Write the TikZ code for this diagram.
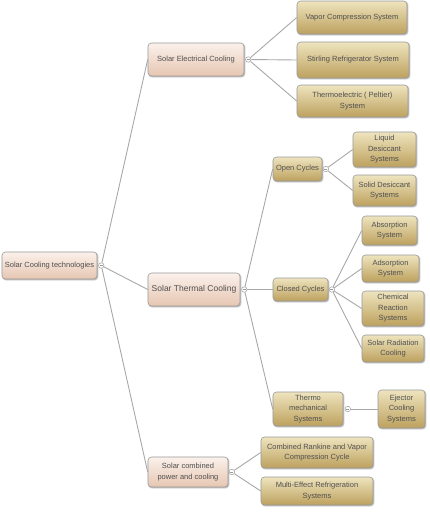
\documentclass[tikz,border=0pt]{standalone}
\usepackage{fontspec}
\setmainfont{Liberation Sans}
\usetikzlibrary{shadows.blur}
\definecolor{txtgray}{HTML}{505050}
\definecolor{boxedge}{HTML}{9A9A9A}
\definecolor{linegray}{HTML}{A8A8A8}
\definecolor{pinktop}{HTML}{FBF1EB}
\definecolor{pinkbot}{HTML}{E6C6B2}
\definecolor{goldtop}{HTML}{EEE4BE}
\definecolor{goldbot}{HTML}{BDA15E}

\begin{document}
\begin{tikzpicture}[x=1pt,y=1pt,yscale=-1,
  box/.style={draw=boxedge, line width=0.6pt, rounded corners=3.5pt, align=center, inner sep=1pt, text=txtgray,
    font=\fontsize{7.5}{10.5}\selectfont,
    blur shadow={shadow xshift=0.8pt, shadow yshift=-0.9pt, shadow blur radius=1.2pt, shadow opacity=40}},
  mainbox/.style={box, top color=pinktop, bottom color=pinkbot},
  leafbox/.style={box, top color=goldtop, bottom color=goldbot},
  knob/.style={circle, draw=boxedge, fill=white, line width=0.5pt, inner sep=0pt, minimum size=5.5pt,
    path picture={\draw[boxedge, line width=0.5pt] ([xshift=-1.6pt]path picture bounding box.center) -- ([xshift=1.6pt]path picture bounding box.center);}},
  link/.style={draw=linegray, line width=0.9pt}]
\useasboundingbox (0,0) rectangle (430,515);

% Text Node
\node [mainbox, minimum width=95pt, minimum height=27pt] (root) at (49.5,265.5) {Solar Cooling technologies};
\node [knob] (rootk) at ([xshift=4pt]root.east) {};
% Text Node
\node [mainbox, minimum width=96pt, minimum height=33pt] (elec) at (196,59.5) {Solar Electrical Cooling};
\node [knob] (eleck) at ([xshift=4pt]elec.east) {};
% Text Node
\node [mainbox, minimum width=92pt, minimum height=33pt, font=\fontsize{8.5}{10.5}\selectfont] (therm) at (194,289.5) {Solar Thermal Cooling};
\node [knob] (thermk) at ([xshift=4pt]therm.east) {};
% Text Node
\node [mainbox, minimum width=80pt, minimum height=30pt] (comb) at (188,472) {Solar combined\\power and cooling};
\node [knob] (combk) at ([xshift=3.5pt]comb.east) {};

% Text Node
\node [leafbox, minimum width=110pt, minimum height=33pt] (vapor) at (352,17.5) {Vapor Compression System};
\node [leafbox, minimum width=112pt, minimum height=36pt] (stirl) at (353,60) {Stirling Refrigerator System};
\node [leafbox, minimum width=111pt, minimum height=32pt] (pelt) at (352.5,101) {Thermoelectric ( Peltier)\\System};

% Text Node
\node [leafbox, minimum width=49pt, minimum height=24pt] (open) at (297.5,169) {Open Cycles};
\node [knob] (openk) at ([xshift=3.5pt]open.east) {};
\node [leafbox, minimum width=63pt, minimum height=35pt] (liquid) at (384.5,149.5) {Liquid\\Desiccant\\Systems};
\node [leafbox, minimum width=63pt, minimum height=31pt] (solid) at (384.5,190.5) {Solid Desiccant\\Systems};

% Text Node
\node [leafbox, minimum width=55pt, minimum height=23pt] (closed) at (300.5,289.5) {Closed Cycles};
\node [knob] (closedk) at ([xshift=3.5pt]closed.east) {};
\node [leafbox, minimum width=55pt, minimum height=29pt] (absorp) at (389.5,230.5) {Absorption\\System};
\node [leafbox, minimum width=57pt, minimum height=27pt] (adsorp) at (390.5,268.5) {Adsorption\\System};
\node [leafbox, minimum width=62pt, minimum height=35pt] (chem) at (393,308.5) {Chemical\\Reaction\\Systems};
\node [leafbox, minimum width=62pt, minimum height=27pt] (radia) at (393,348.5) {Solar Radiation\\Cooling};

% Text Node
\node [leafbox, minimum width=70pt, minimum height=34pt] (thmech) at (308,409) {Thermo\\mechanical\\Systems};
\node [knob] (thmechk) at ([xshift=4.5pt]thmech.east) {};
\node [leafbox, minimum width=47pt, minimum height=38pt] (eject) at (401.5,409) {Ejector\\Cooling\\Systems};

% Text Node
\node [leafbox, minimum width=112pt, minimum height=31pt] (rank) at (317,452.5) {Combined Rankine and Vapor\\Compression Cycle};
\node [leafbox, minimum width=112pt, minimum height=28pt] (multi) at (317,491) {Multi-Effect Refrigeration\\Systems};

% Connection
\draw [link] (rootk) -- (elec.west);
\draw [link] (rootk) -- (therm.west);
\draw [link] (rootk) -- (comb.west);
% Connection
\draw [link] (eleck) -- (vapor.west);
\draw [link] (eleck) -- (stirl.west);
\draw [link] (eleck) -- (pelt.west);
% Connection
\draw [link] (thermk) -- (open.west);
\draw [link] (thermk) -- (closed.west);
\draw [link] (thermk) -- (thmech.west);
% Connection
\draw [link] (openk) -- (liquid.west);
\draw [link] (openk) -- (solid.west);
% Connection
\draw [link] (closedk) -- (absorp.west);
\draw [link] (closedk) -- (adsorp.west);
\draw [link] (closedk) -- (chem.west);
\draw [link] (closedk) -- (radia.west);
% Connection
\draw [link] (thmechk) -- (eject.west);
% Connection
\draw [link] (combk) -- (rank.west);
\draw [link] (combk) -- (multi.west);

\end{tikzpicture}
\end{document}
